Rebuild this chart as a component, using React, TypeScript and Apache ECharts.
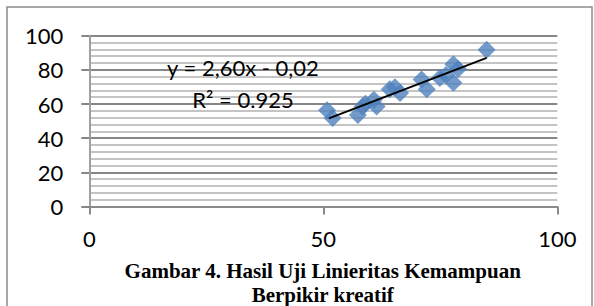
import React, { useEffect, useRef } from "react";
import * as echarts from "echarts";

const xValues = [50.8, 52.0, 57.4, 58.4, 59.0, 60.8, 61.4, 64.2, 65.3, 66.4, 71.0, 72.1, 74.9, 76.2, 77.8, 78.8, 77.8, 84.9];
const yValues = [56.3, 51.8, 53.6, 58.5, 60.2, 62.5, 58.5, 68.6, 69.8, 66.5, 74.4, 68.6, 75.2, 77.0, 83.3, 80.5, 72.5, 91.8];
const trendX = [51.2, 84.9];
const trendY = [51.6, 87.0];
const xTicks = [0, 50, 100];
const yTicks = [0, 20, 40, 60, 80, 100];
const equationText = "y = 2,60x - 0,02";
const r2Text = "R² = 0.925";
const titleLine1 = "Gambar 4. Hasil Uji Linieritas Kemampuan";
const titleLine2 = "Berpikir kreatif";

export default function App() {
  const ref = useRef<HTMLDivElement>(null);
  useEffect(() => {
    if (!ref.current) return;
    const chart = echarts.init(ref.current, undefined, { renderer: "svg" });
    const labelFont = "Lato, 'Open Sans', sans-serif";
    const titleFont = `bold 21px 'Liberation Serif', 'Times New Roman', serif`;
    chart.setOption({
      animation: false,
      backgroundColor: "#ffffff",
      grid: { left: 89.3, right: 36.7, top: 35.7, bottom: 99.5 },
      xAxis: {
        type: "value",
        min: xTicks[0],
        max: xTicks[xTicks.length - 1],
        interval: xTicks[1] - xTicks[0],
        axisLine: { show: true, lineStyle: { color: "#8a8a8a", width: 2 } },
        axisTick: { show: true, length: 8, lineStyle: { color: "#8a8a8a", width: 2 } },
        axisLabel: { color: "#000", fontSize: 22, fontFamily: labelFont, margin: 21 },
        splitLine: { show: false },
      },
      yAxis: {
        type: "value",
        min: yTicks[0],
        max: yTicks[yTicks.length - 1],
        interval: yTicks[1] - yTicks[0],
        axisLine: { show: true, lineStyle: { color: "#a0a0a0", width: 2 } },
        axisTick: { show: true, length: 8, lineStyle: { color: "#868686", width: 2 } },
        axisLabel: { color: "#000", fontSize: 22, fontFamily: labelFont, margin: 26 },
        splitLine: { show: true, lineStyle: { color: "#868686", width: 2 } },
        minorTick: { show: false, splitNumber: 5 },
        minorSplitLine: { show: true, lineStyle: { color: "#c4c4c4", width: 2 } },
      },
      series: [
        {
          type: "scatter",
          symbol: "diamond",
          symbolSize: 18,
          itemStyle: { color: "#4F81BD" },
          data: xValues.map((x, i) => [x, yValues[i]]),
          z: 2,
        },
        {
          type: "line",
          symbol: "none",
          lineStyle: { color: "#000", width: 2 },
          data: trendX.map((x, i) => [x, trendY[i]]),
          z: 3,
        },
      ],
      graphic: [
        {
          type: "rect",
          shape: { x: 7, y: 7, width: 585, height: 330 },
          style: { fill: "none", stroke: "#8c8c8c", lineWidth: 1.5 },
          silent: true,
        },
        {
          type: "text",
          x: 243,
          y: 67,
          style: { text: equationText, font: `22px ${labelFont}`, fill: "#000", align: "center", verticalAlign: "middle" },
          z: 10,
        },
        {
          type: "text",
          x: 243,
          y: 99,
          style: { text: r2Text, font: `22px ${labelFont}`, fill: "#000", align: "center", verticalAlign: "middle" },
          z: 10,
        },
        {
          type: "text",
          x: 322.7,
          y: 271,
          style: { text: titleLine1, font: titleFont, fill: "#000", align: "center", verticalAlign: "middle" },
        },
        {
          type: "text",
          x: 322.7,
          y: 294.5,
          style: { text: titleLine2, font: titleFont, fill: "#000", align: "center", verticalAlign: "middle" },
        },
      ],
    });
    return () => chart.dispose();
  }, []);
  return <div ref={ref} style={{ position: "fixed", left: 0, top: 0, width: 594, height: 306 }} />;
}
